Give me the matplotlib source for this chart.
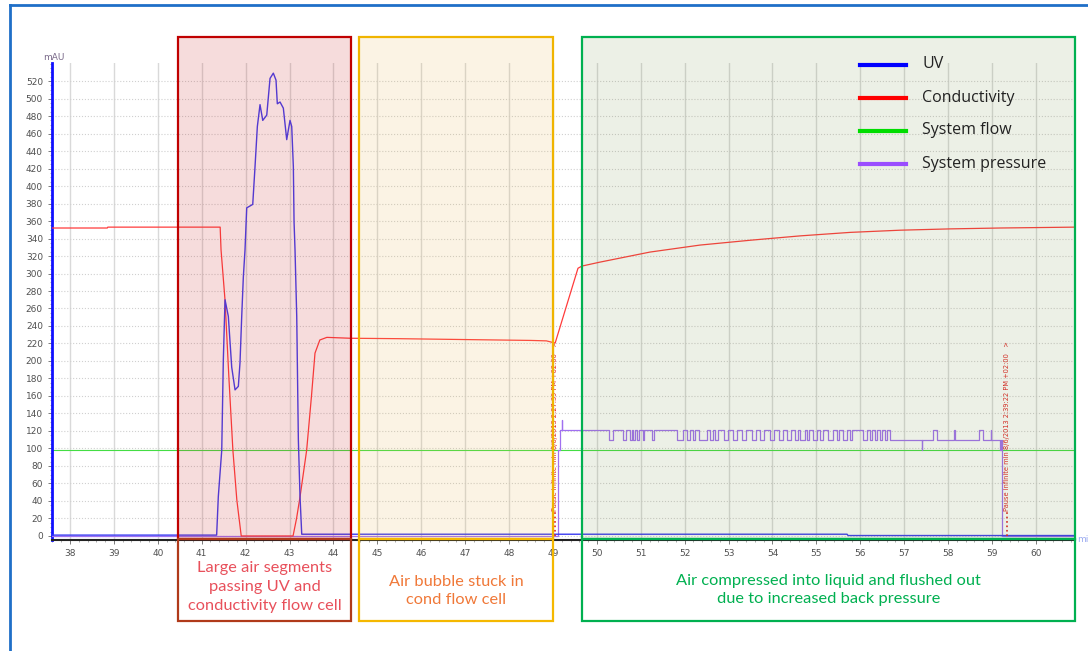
import matplotlib.pyplot as plt
from matplotlib.patches import Rectangle
from matplotlib.lines import Line2D

# Chromatogram data (time in min, signal in mAU scale)
# ----------------------------------------------------
uv_t = [37.59, 41.34, 41.378, 41.456, 41.492, 41.531, 41.606, 41.683, 41.759, 41.834,
        41.872, 41.911, 41.948, 41.986, 42.025, 42.162, 42.214, 42.267, 42.328, 42.39,
        42.481, 42.556, 42.631, 42.692, 42.722, 42.784, 42.859, 42.936, 42.973, 43.011,
        43.05, 43.087, 43.103, 43.125, 43.164, 43.201, 43.239, 43.278, 55.7, 55.72, 60.89]
uv_v = [1, 1, 45, 98, 201, 270, 251, 193, 167, 171,
        198, 251, 296, 327, 375, 379, 422, 468, 493, 475,
        481, 523, 529, 521, 494, 496, 489, 453, 464, 475,
        468, 422, 359, 327, 251, 110, 45, 2, 2, 0.5, 0.5]

cond_t = [37.59, 38.85, 38.86, 41.42, 41.44, 41.53, 41.62, 41.71, 41.80, 41.90,
          43.08, 43.16, 43.24, 43.39, 43.50, 43.58, 43.69, 43.85, 44.38, 45.5,
          47.0, 48.5, 48.85, 49.05, 49.57, 49.66, 50.07, 51.21, 52.35, 53.49,
          54.63, 55.77, 56.91, 58.05, 59.18, 60.89]
cond_v = [352, 352, 353, 353, 327, 270, 180, 98, 41, 0,
          0, 20, 45, 98, 160, 209, 224, 227, 226, 225.5,
          224.5, 223.5, 223, 220.5, 306, 308.5, 313, 324.5, 332.5, 338,
          343, 347, 349.5, 351, 352, 353]

flow_t = [37.59, 60.89]
flow_v = [98, 98]

# System pressure: step trace, levels and switching times
press_start = [(37.59, 0), (49.11, 98), (49.15, 121), (49.20, 133), (49.215, 121)]
press_dips = [(50.285, 50.376), (50.59, 50.665), (50.756, 50.80), (50.83, 50.87),
              (50.923, 50.968), (51.046, 51.075), (51.251, 51.303), (51.82, 51.97),
              (52.048, 52.123), (52.185, 52.237), (52.335, 52.503), (52.579, 52.64),
              (52.692, 52.768), (52.897, 52.989), (53.103, 53.194), (53.308, 53.399),
              (53.535, 53.626), (53.718, 53.809), (53.945, 54.036), (54.15, 54.241),
              (54.333, 54.424), (54.515, 54.583), (54.629, 54.743), (54.788, 54.834),
              (54.925, 55.016), (55.084, 55.153), (55.267, 55.38), (55.472, 55.517),
              (55.608, 55.699), (55.768, 55.813), (56.064, 56.155), (56.223, 56.269),
              (56.337, 56.383), (56.451, 56.497), (56.565, 56.611)]
press_tail = [(56.679, 110), (57.401, 98), (57.411, 110), (57.651, 121), (57.756, 110),
              (58.137, 121), (58.147, 110), (58.713, 121), (58.79, 110), (58.973, 121),
              (58.983, 110), (59.185, 98), (59.195, 110), (59.23, 0), (60.89, 0)]

press_t = [p[0] for p in press_start]
press_v = [p[1] for p in press_start]
for a, b in press_dips:
    press_t += [a, b]
    press_v += [110, 121]
press_t += [p[0] for p in press_tail]
press_v += [p[1] for p in press_tail]

marker_t = [49.04, 59.35]
marker_text = ['Pause infinite min 8/6/2013 2:27:39 PM +02:00   >',
               'Pause infinite min 8/6/2013 2:39:22 PM +02:00   >']

legend_labels = ['UV', 'Conductivity', 'System flow', 'System pressure']
legend_colors = ['#0000ff', '#ff0000', '#00dd00', '#9a4dff']

box_texts = ['Large air segments\npassing UV and\nconductivity flow cell',
             'Air bubble stuck in\ncond flow cell',
             'Air compressed into liquid and flushed out\ndue to increased back pressure']

# Figure and axes
# ---------------
W, H = 1088, 651
fig = plt.figure(figsize=(W / 100, H / 100), dpi=100)
ax = fig.add_axes([52 / W, 1 - 540 / H, (1075 - 52) / W, (540 - 63) / H])

def fx(x):
    return x / W

def fy(y):
    return 1 - y / H

ax.plot(flow_t, flow_v, color='#44dd44', lw=0.8, zorder=2)
ax.plot(press_t, press_v, color='#a070f0', lw=0.9, drawstyle='steps-post', zorder=3)
ax.plot(cond_t, cond_v, color='#ff3b3b', lw=0.9, zorder=4)
ax.plot(uv_t, uv_v, color='#3b3bf0', lw=1.0, zorder=5)

# pause markers
for t, s in zip(marker_t, marker_text):
    ax.vlines(t, 0, 27, colors='#e02020', lw=1.2, linestyles=':', zorder=6)
    ax.text(t, 28, s, rotation=90, ha='center', va='bottom', fontsize=4.8,
            color='#e02020', zorder=6)

ax.set_xlim(37.59, 60.89)
ax.set_ylim(-4.6, 540.6)
ax.set_xticks(range(38, 61))
ax.set_xticks([38 + i * 0.2 for i in range(-2, 115)], minor=True)
ax.set_yticks(range(0, 521, 20))
ax.set_yticks(range(0, 541, 5), minor=True)
ax.tick_params(axis='both', labelsize=6.5, labelcolor='#505050', length=3, width=0.6, color='#666666')
ax.tick_params(axis='both', which='minor', length=1.5, width=0.5, color='#888888')
ax.grid(axis='x', color='#d9d9d9', lw=1.0)
ax.grid(axis='y', color='#d0d0d0', lw=0.8, ls=':')
for sp in ['top', 'right']:
    ax.spines[sp].set_visible(False)
ax.spines['left'].set_color('#1010ff')
ax.spines['left'].set_linewidth(2)
ax.spines['bottom'].set_color('#222222')
ax.spines['bottom'].set_linewidth(1.5)

fig.text(fx(43), fy(57), 'mAU', fontsize=6.5, color='#7a6a8a', va='center')
fig.text(fx(1077), fy(540), 'mi', fontsize=6.5, color='#9aaaf0', va='center')

# Annotation boxes
# ----------------
boxes = [  # x0, x1, fill rgb, fill alpha, upper edge, lower edge, text colour, text y
    (178, 351, (0.8, 0.2, 0.2), 0.17, '#c00000', '#b03a1a', '#e8505b', 587),
    (359, 553, (0.9, 0.7, 0.3), 0.15, '#f0b400', '#f5b800', '#f07838', 591),
    (582, 1075, (0.45, 0.55, 0.25), 0.13, '#00b050', '#00b050', '#00b050', 590),
]
for (x0, x1, fc, a, ec1, ec2, tc, ty), txt in zip(boxes, box_texts):
    fig.add_artist(Rectangle((fx(x0), fy(539)), (x1 - x0) / W, (539 - 37) / H,
                             transform=fig.transFigure, facecolor=fc, alpha=a,
                             edgecolor='none', zorder=10))
    fig.add_artist(Rectangle((fx(x0), fy(539)), (x1 - x0) / W, (539 - 37) / H,
                             transform=fig.transFigure, facecolor='none',
                             edgecolor=ec1, lw=1.6, zorder=11))
    fig.add_artist(Rectangle((fx(x0), fy(621)), (x1 - x0) / W, (621 - 539) / H,
                             transform=fig.transFigure, facecolor='none',
                             edgecolor=ec2, lw=1.6, zorder=11))
    fig.text(fx((x0 + x1) / 2), fy(ty), txt, ha='center', va='center',
             fontsize=11.8, family='Lato', color=tc, linespacing=1.45, zorder=12)

# Legend
# ------
for i, (lab, col) in enumerate(zip(legend_labels, legend_colors)):
    yy = [64.5, 97.5, 130.5, 163.5][i]
    fig.add_artist(Line2D([fx(860), fx(906)], [fy(yy), fy(yy)], color=col, lw=3,
                          transform=fig.transFigure, zorder=13))
    fig.text(fx(922), fy(yy), lab, fontsize=11.5, family='Open Sans',
             color='#222222', va='center', zorder=13)

# Outer frame
# -----------
fig.add_artist(Line2D([fx(10), fx(10)], [fy(5), 0], color='#1f6fc8', lw=2,
                      transform=fig.transFigure))
fig.add_artist(Line2D([fx(10), 1], [fy(5), fy(5)], color='#1f6fc8', lw=2,
                      transform=fig.transFigure))

fig.savefig('out.png', dpi=100)
